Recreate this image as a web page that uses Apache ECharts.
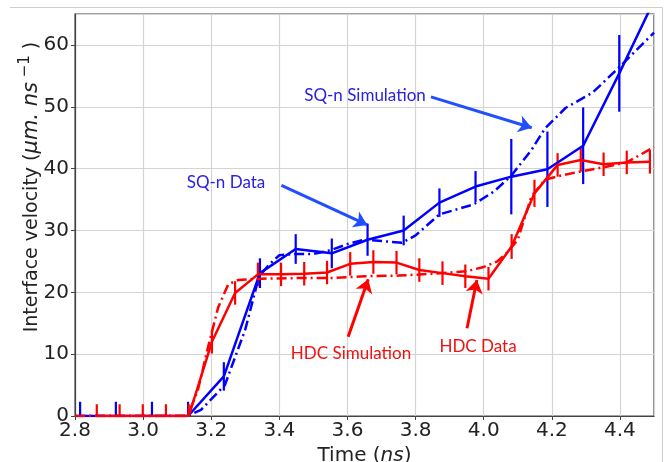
<!DOCTYPE html>
<html><head><meta charset="utf-8">
<script src="https://cdn.jsdelivr.net/npm/echarts@6/dist/echarts.min.js"></script>
<style>html,body{margin:0;padding:0;background:#fff}#c{width:667px;height:462px}</style>
</head><body><div id="c"></div>
<script>
// ---- data ----
const xTickStep = 0.2;
const yTickStep = 10;

const hdcDataT = [2.864, 2.931, 2.999, 3.067, 3.134, 3.202, 3.270, 3.337, 3.405, 3.473, 3.540, 3.608, 3.676, 3.744, 3.811, 3.879, 3.946, 4.014, 4.082, 4.149, 4.217, 4.285, 4.352, 4.420, 4.488];
const hdcDataV = [0, 0, 0, 0, 0, 12.0, 19.9, 22.9, 22.9, 23.0, 23.2, 24.6, 24.9, 24.8, 23.6, 23.1, 22.6, 22.2, 27.4, 36.0, 40.6, 41.4, 40.7, 41.0, 41.1];
const hdcDataErr = [1.9, 1.9, 1.9, 1.9, 1.9, 1.9, 1.9, 1.9, 1.9, 1.9, 1.9, 1.9, 1.9, 1.9, 1.9, 1.9, 1.9, 1.9, 2.0, 2.2, 1.9, 1.9, 1.9, 1.9, 1.9];

const sqnDataT = [2.815, 2.920, 3.026, 3.132, 3.237, 3.343, 3.448, 3.554, 3.659, 3.765, 3.870, 3.976, 4.081, 4.187, 4.292, 4.398, 4.503];
const sqnDataV = [0, 0, 0, 0, 6.4, 23.1, 27.0, 26.3, 28.5, 30.0, 34.5, 37.1, 38.7, 39.9, 43.7, 55.4, 67.5];
const sqnDataErr = [2.3, 2.3, 2.3, 2.3, 2.3, 2.4, 2.4, 2.4, 2.6, 2.4, 2.3, 2.5, 6.1, 6.1, 6.2, 6.2, 6.2];

const hdcSimT = [2.80, 3.13, 3.16, 3.19, 3.22, 3.25, 3.28, 3.35, 3.45, 3.55, 3.65, 3.75, 3.85, 3.95, 4.00, 4.04, 4.07, 4.10, 4.14, 4.18, 4.22, 4.28, 4.36, 4.42, 4.50];
const hdcSimV = [0, 0, 4.0, 11.0, 17.5, 21.3, 22.0, 22.2, 22.3, 22.3, 22.6, 22.7, 23.0, 23.4, 24.1, 25.0, 26.5, 28.5, 35.5, 38.2, 38.8, 39.5, 40.3, 41.0, 43.5];

const sqnSimT = [2.80, 3.13, 3.17, 3.24, 3.30, 3.34, 3.37, 3.40, 3.45, 3.50, 3.55, 3.60, 3.65, 3.72, 3.76, 3.80, 3.87, 3.97, 4.03, 4.08, 4.14, 4.18, 4.24, 4.32, 4.40, 4.50];
const sqnSimV = [0, 0, 1.0, 5.0, 14.0, 22.5, 24.5, 26.0, 26.2, 26.2, 26.8, 27.8, 28.5, 28.2, 28.0, 29.2, 32.6, 34.2, 36.3, 38.8, 43.0, 46.5, 49.8, 52.3, 56.5, 62.0];

const labels = {
  sqnSim: 'SQ-n Simulation',
  sqnData: 'SQ-n Data',
  hdcSim: 'HDC Simulation',
  hdcData: 'HDC Data'
};
// arrow start / end in data units
const arrowSqnData = [[3.406, 37.3], [3.658, 30.9]];
const arrowSqnSim = [[3.845, 51.6], [4.141, 46.6]];
const arrowHdcSim = [[3.602, 12.8], [3.661, 22.1]];
const arrowHdcData = [[3.951, 14.2], [3.980, 22.0]];

// ---- chart ----
const BLUE = '#0000ff', RED = '#ff0000';
const zip = (t, v) => t.map((x, i) => [x, v[i]]);
const zipE = (t, v, e) => t.map((x, i) => [x, v[i], e[i]]);
const errSeries = (data, color) => ({
  type: 'custom', clip: true, silent: true,
  encode: { x: 0, y: 1 },
  data,
  renderItem: (params, api) => {
    const x = api.value(0), y = api.value(1), e = api.value(2);
    const a = api.coord([x, y - e]), b = api.coord([x, y + e]);
    return { type: 'line', shape: { x1: a[0], y1: a[1], x2: b[0], y2: b[1] },
      style: { stroke: color, lineWidth: 2.2 } };
  }
});
const arrow = (pts, color) => ({
  silent: true, animation: false,
  symbol: ['none', 'arrow'], symbolSize: 13,
  label: { show: false },
  lineStyle: { color, width: 3, type: 'solid' },
  data: [[{ coord: pts[0] }, { coord: pts[1] }]]
});
const dashdot = [10, 4, 2, 4];
const TXT = '#222';

const chart = echarts.init(document.getElementById('c'), null, { renderer: 'canvas' });
chart.setOption({
  animation: false,
  backgroundColor: '#fff',
  grid: { left: 75, right: 13, top: 14, bottom: 46, outerBoundsMode: 'none', containLabel: false,
    show: true, borderColor: '#444', borderWidth: 1.2, backgroundColor: 'transparent' },
  xAxis: {
    type: 'value', min: 2.8, max: 4.5, interval: xTickStep,
    name: 'Time ({i|ns})', nameLocation: 'middle', nameGap: 21,
    nameTextStyle: { fontFamily: 'DejaVu Sans', fontSize: 20, color: TXT,
      rich: { i: { fontFamily: 'DejaVu Sans', fontSize: 20, fontStyle: 'italic', color: TXT } } },
    axisLine: { show: true, lineStyle: { color: '#444', width: 1.2 } },
    axisTick: { show: true, length: 4, lineStyle: { color: '#444' } },
    axisLabel: { fontFamily: 'DejaVu Sans', fontSize: 20, color: TXT, margin: 5, showMaxLabel: false,
      formatter: v => v.toFixed(1) },
    splitLine: { show: true, lineStyle: { color: '#d4d4d4', width: 1.2 } }
  },
  yAxis: {
    type: 'value', min: 0, max: 65, interval: yTickStep,
    axisLine: { show: true, lineStyle: { color: '#444', width: 1.2 } },
    axisTick: { show: true, length: 4, lineStyle: { color: '#444' } },
    axisLabel: { fontFamily: 'DejaVu Sans', fontSize: 20, color: TXT, margin: 6, showMaxLabel: false },
    splitLine: { show: true, lineStyle: { color: '#d4d4d4', width: 1.2 } }
  },
  series: [
    { type: 'line', data: zip(sqnSimT, sqnSimV), showSymbol: false, symbol: 'none',
      lineStyle: { color: BLUE, width: 2.5, type: dashdot }, z: 2,
      markLine: arrow(arrowSqnSim, '#1f4fff') },
    { type: 'line', data: zip(sqnDataT, sqnDataV), showSymbol: false, symbol: 'none',
      lineStyle: { color: BLUE, width: 2.5 }, z: 2,
      markLine: arrow(arrowSqnData, '#1f4fff') },
    errSeries(zipE(sqnDataT, sqnDataV, sqnDataErr), BLUE),
    { type: 'line', data: zip(hdcSimT, hdcSimV), showSymbol: false, symbol: 'none',
      lineStyle: { color: RED, width: 2.5, type: dashdot }, z: 3,
      markLine: arrow(arrowHdcSim, RED) },
    { type: 'line', data: zip(hdcDataT, hdcDataV), showSymbol: false, symbol: 'none',
      lineStyle: { color: RED, width: 2.5 }, z: 3,
      markLine: arrow(arrowHdcData, RED) },
    errSeries(zipE(hdcDataT, hdcDataV, hdcDataErr), RED)
  ],
  graphic: [
    { type: 'polyline', shape: { points: [[10, 7.5], [662.5, 7.5], [662.5, 462]] }, style: { fill: 'none', stroke: '#cfcfcf', lineWidth: 1 }, z: -10, silent: true },
    { type: 'text', x: 30, y: 187, rotation: Math.PI / 2, silent: true, z: 100,
      style: { text: '{n|Interface velocity (}{i|μm. ns}{s| −1}{n| )}', align: 'center', verticalAlign: 'middle',
        rich: {
          n: { fontFamily: 'DejaVu Sans', fontSize: 19, fill: TXT, verticalAlign: 'bottom' },
          i: { fontFamily: 'DejaVu Sans', fontSize: 21, fontStyle: 'italic', fill: TXT, verticalAlign: 'bottom' },
          s: { fontFamily: 'DejaVu Sans', fontSize: 15, fill: TXT, verticalAlign: 'bottom', padding: [0, 0, 9, 0] }
        } } },
    { type: 'text', x: 365, y: 96, style: { text: labels.sqnSim, fill: '#2a22e0', font: '17px Lato', align: 'center', verticalAlign: 'middle' }, z: 100 },
    { type: 'text', x: 226, y: 183, style: { text: labels.sqnData, fill: '#2a22e0', font: '17px Lato', align: 'center', verticalAlign: 'middle' }, z: 100 },
    { type: 'text', x: 351, y: 354, style: { text: labels.hdcSim, fill: '#ee1111', font: '17px Lato', align: 'center', verticalAlign: 'middle' }, z: 100 },
    { type: 'text', x: 478, y: 347, style: { text: labels.hdcData, fill: '#ee1111', font: '17px Lato', align: 'center', verticalAlign: 'middle' }, z: 100 }
  ]
});
</script></body></html>
